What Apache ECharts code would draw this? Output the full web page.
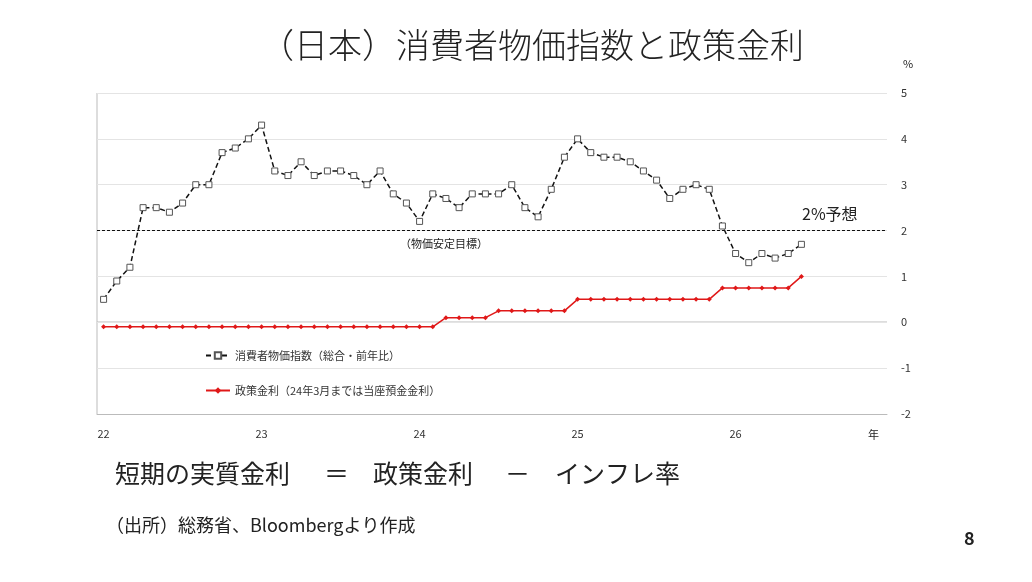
<!DOCTYPE html>
<html><head><meta charset="utf-8">
<script src="https://cdn.jsdelivr.net/npm/echarts@6/dist/echarts.min.js"></script>
<style>body{margin:0;background:#fff}#c{width:1032px;height:582px}</style>
</head><body><div id="c"></div>
<script>
var yearLabels = ['22', '23', '24', '25', '26'];
var cpi = [0.5, 0.9, 1.2, 2.5, 2.5, 2.4, 2.6, 3.0, 3.0, 3.7, 3.8, 4.0,
    4.3, 3.3, 3.2, 3.5, 3.2, 3.3, 3.3, 3.2, 3.0, 3.3, 2.8, 2.6,
    2.2, 2.8, 2.7, 2.5, 2.8, 2.8, 2.8, 3.0, 2.5, 2.3, 2.9, 3.6,
    4.0, 3.7, 3.6, 3.6, 3.5, 3.3, 3.1, 2.7, 2.9, 3.0, 2.9, 2.1,
    1.5, 1.3, 1.5, 1.4, 1.5, 1.7];
var policyRate = [-0.1, -0.1, -0.1, -0.1, -0.1, -0.1, -0.1, -0.1, -0.1, -0.1, -0.1, -0.1,
    -0.1, -0.1, -0.1, -0.1, -0.1, -0.1, -0.1, -0.1, -0.1, -0.1, -0.1, -0.1,
    -0.1, -0.1, 0.1, 0.1, 0.1, 0.1, 0.25, 0.25, 0.25, 0.25, 0.25, 0.25,
    0.5, 0.5, 0.5, 0.5, 0.5, 0.5, 0.5, 0.5, 0.5, 0.5, 0.5, 0.75,
    0.75, 0.75, 0.75, 0.75, 0.75, 1.0];
var target = 2;

var months = [];
for (var i = 0; i < 60; i++) {
    months.push(i % 12 === 0 ? yearLabels[i / 12] : '');
}

var font = '"Noto Sans CJK JP", "Noto Sans", sans-serif';
var myChart = echarts.init(document.getElementById('c'), null, { renderer: 'canvas' });

function txt(x, y, s, size, extra) {
    var st = { text: s, fontSize: size, fill: '#222', fontFamily: font };
    for (var k in extra) st[k] = extra[k];
    return { type: 'text', left: x, top: y, style: st };
}

var option = {
    animation: false,
    textStyle: { fontFamily: font },
    grid: { left: 97, right: 145, top: 93, bottom: 168 },
    legend: {
        orient: 'vertical', left: 200, top: 345, itemGap: 24,
        itemWidth: 24, itemHeight: 8,
        textStyle: { fontSize: 11, color: '#333', fontFamily: font },
        data: ['消費者物価指数（総合・前年比）', '政策金利（24年3月までは当座預金金利）']
    },
    xAxis: {
        type: 'category', data: months, boundaryGap: true,
        axisLine: { onZero: false, lineStyle: { color: '#bbb' } },
        axisTick: { show: false },
        axisLabel: { interval: 0, fontSize: 11, color: '#333', margin: 14, align: 'center' },
        splitLine: { show: false }
    },
    yAxis: {
        type: 'value', position: 'right', min: -2, max: 5, interval: 1,
        axisLine: { show: false }, axisTick: { show: false },
        axisLabel: { fontSize: 11, color: '#333', margin: 14 },
        splitLine: { lineStyle: { color: '#e4e4e4' } }
    },
    graphic: [
        { type: 'line', shape: { x1: 97, y1: 93, x2: 97, y2: 414 }, style: { stroke: '#bbb' } },
        { type: 'line', shape: { x1: 97, y1: 322, x2: 887, y2: 322 }, style: { stroke: '#bbb' } },
        txt(260, 28, '（日本）消費者物価指数と政策金利', 34, { fontWeight: 300 }),
        txt(903, 58, '%', 11, {}),
        txt(868, 429, '年', 11, {}),
        txt(802, 206, '2%予想', 16, {}),
        txt(400, 238, '（物価安定目標）', 11, {}),
        txt(115, 461, '短期の実質金利', 25, {}),
        txt(324, 461, '＝', 25, {}),
        txt(373, 461, '政策金利', 25, {}),
        txt(505, 461, '－', 25, {}),
        txt(555, 461, 'インフレ率', 25, {}),
        txt(106, 516, '（出所）総務省、Bloombergより作成', 18, {}),
        txt(964, 529, '8', 18, { fontWeight: 'bold' })
    ],
    series: [
        {
            name: '消費者物価指数（総合・前年比）', type: 'line', data: cpi,
            symbol: 'rect', symbolSize: 6,
            lineStyle: { color: '#111', type: [5, 3], width: 1.5 },
            itemStyle: { color: '#fff', borderColor: '#555', borderWidth: 1 },
            markLine: {
                silent: true, symbol: 'none', label: { show: false },
                lineStyle: { color: '#111', type: [3, 2], width: 1 },
                data: [{ yAxis: target }]
            }
        },
        {
            name: '政策金利（24年3月までは当座預金金利）', type: 'line', data: policyRate,
            symbol: 'diamond', symbolSize: 5,
            lineStyle: { color: '#e01818', width: 1.5 },
            itemStyle: { color: '#e01818' }
        }
    ]
};

if (option && typeof option === 'object') {
    myChart.setOption(option);
}
</script>
</body></html>
